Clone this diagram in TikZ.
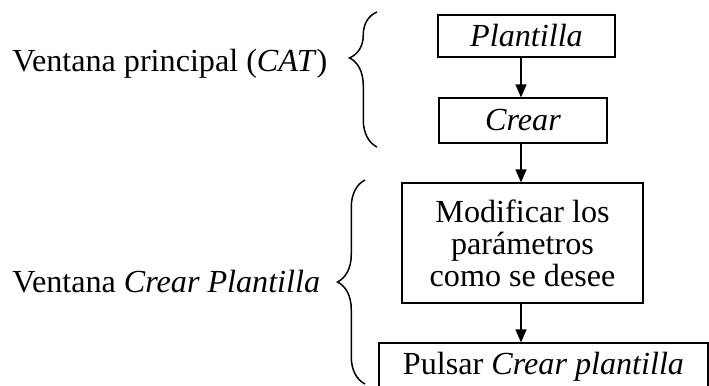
\documentclass[tikz,border=0pt]{standalone}
\usepackage{fontspec}
\setmainfont{Liberation Serif}
\usepackage{tikz}
\usetikzlibrary{positioning,arrows.meta,decorations.pathreplacing}

\begin{document}
\begin{tikzpicture}
		[x=0.02cm,y=-0.02cm,
		every node/.style={font=\fontsize{18.3}{18.2}\selectfont},
		paso/.style={draw,line width=0.7pt,inner sep=0pt,align=center},
		rotulo/.style={inner sep=0pt,anchor=base west},
		flecha/.style={line width=0.7pt,-{Triangle[length=0.26cm,width=0.22cm]}},
		llave/.style={line width=0.85pt,decorate,decoration={brace,amplitude=0.55cm}}]
		\useasboundingbox (0,0) rectangle (709,385);
		\node[paso,minimum width=3.54cm,minimum height=0.84cm] (plantilla) at (526.5,36) {\textit{Plantilla}};
		\node[paso,minimum width=3.36cm,minimum height=0.9cm] (crear) at (523,120.5) {\textit{Crear}};
		\node[paso,minimum width=4.82cm,minimum height=2.4cm] (modificar) at (522.5,243) {Modificar los\\parámetros\\como se desee};
		\node[paso,minimum width=6.58cm,minimum height=0.94cm,text depth=0.4em] (pulsar) at (543.5,366.5) {Pulsar \textit{Crear plantilla}};
		\coordinate (eje) at (521,0);
		\draw[flecha] (plantilla.south -| eje) -- (crear.north -| eje);
		\draw[flecha] (crear.south -| eje) -- (modificar.north -| eje);
		\draw[flecha] (modificar.south -| eje) -- (pulsar.north -| eje);
		\draw[llave,decoration={aspect=0.66}] (377,147) -- (377,12);
		\draw[llave,decoration={aspect=0.5}] (365,384) -- (365,180);
		\node[rotulo] (principal) at (12,71.7) {Ventana principal (\textit{CAT})};
		\node[rotulo] (ventana) at (12,292) {Ventana \textit{Crear Plantilla}};
\end{tikzpicture}
\end{document}
